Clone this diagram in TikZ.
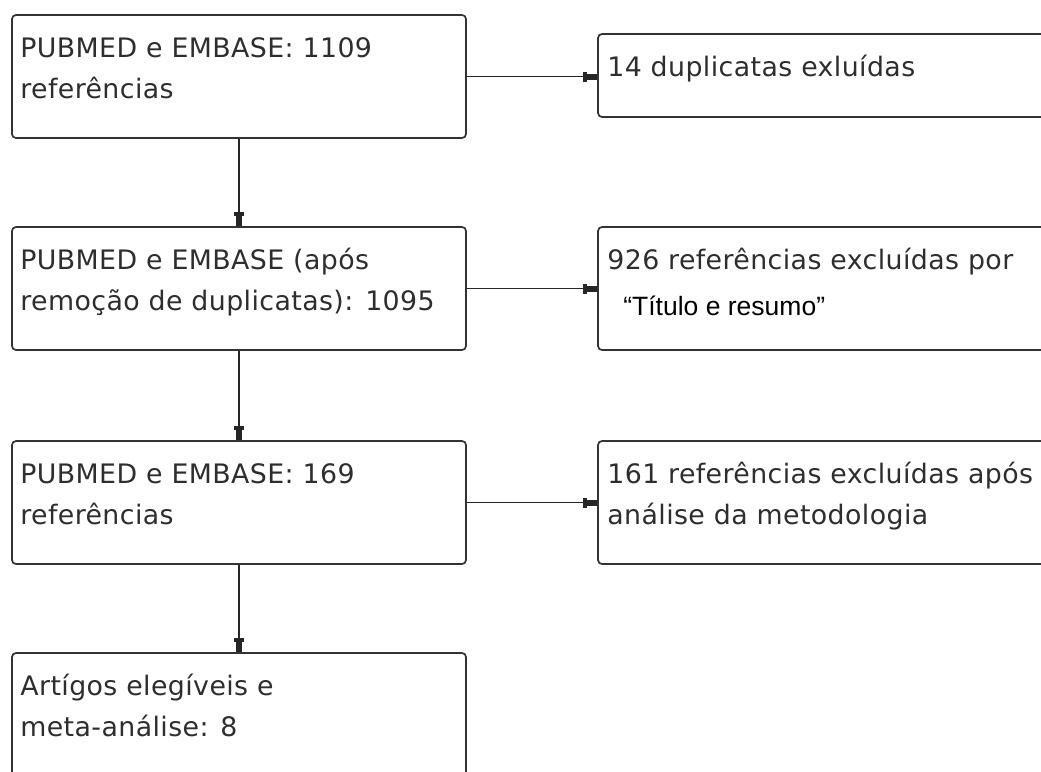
\documentclass[tikz,border=0pt]{standalone}
\usepackage{fontspec}
\setmainfont{Liberation Sans}
\newfontfamily\flowfont{DejaVu Sans}[LetterSpace=1.5]
\newfontfamily\quotefont{Liberation Sans}
\usetikzlibrary{arrows.meta}

\begin{document}
\begin{tikzpicture}[%
    x=1pt, y=-1pt,
    mainbox/.style={%
        draw=black!80,
        line width=1.7pt,
        rounded corners=4pt,
        minimum width=454pt,
        minimum height=123pt,
        inner sep=0pt
    },
    exclbox/.style={%
        draw=black!80,
        line width=1.7pt,
        rounded corners=4pt,
        minimum width=462pt,
        minimum height=123pt,
        inner sep=0pt
    },
    boxtext/.style={%
        anchor=north west,
        inner sep=0pt,
        align=left,
        text=black!82,
        font=\flowfont\fontsize{26.8}{41}\selectfont
    },
    flow/.style={%
        draw=black!85,
        line width=1.6pt,
        -{Rectangle[length=4pt,width=10pt]Rectangle[length=10pt,width=6pt]}
    }
]
\useasboundingbox (0,0) rectangle (1041,771);
\clip (0,0) rectangle (1041,771);

% Main column
    \node[mainbox] (main1) at (239,76.5) {};
    \node[mainbox] (main2) at (239,288.5) {};
    \node[mainbox] (main3) at (239,502.5) {};
    \node[mainbox] (main4) at (239,714.5) {};

% Excluded references
    \node[exclbox, minimum height=83pt] (excl1) at (829,75.5) {};
    \node[exclbox] (excl2) at (829,288.5) {};
    \node[exclbox] (excl3) at (829,502.5) {};

% Texts
    \node[boxtext, xshift=9pt, yshift=-14pt] (main1text) at (main1.north west)
        {\strut PUBMED e EMBASE: 1109\\referências};
    \node[boxtext, xshift=9pt, yshift=-14pt] (main2text) at (main2.north west)
        {\strut PUBMED e EMBASE (após\\remoção de duplicatas): 1095};
    \node[boxtext, xshift=9pt, yshift=-14pt] (main3text) at (main3.north west)
        {\strut PUBMED e EMBASE: 169\\referências};
    \node[boxtext, xshift=9pt, yshift=-14pt] (main4text) at (main4.north west)
        {\strut Artígos elegíveis e\\meta-análise: 8};

    \node[boxtext, xshift=10pt, yshift=-14pt] (excl1text) at (excl1.north west)
        {\strut 14 duplicatas exluídas};
    \node[boxtext, xshift=10pt, yshift=-14pt] (excl2text) at (excl2.north west)
        {\strut 926 referências excluídas por\\[5pt]%
        \hspace*{16pt}{\quotefont\fontsize{26.5}{41}\selectfont\color{black}“Título e resumo”}};
    \node[boxtext, xshift=10pt, yshift=-14pt] (excl3text) at (excl3.north west)
        {\strut 161 referências excluídas após\\análise da metodologia};

% Arrows
\draw[flow] (main1) -- (main2);
\draw[flow] (main2) -- (main3);
\draw[flow] (main3) -- (main4);

\draw[flow] (main1.east) -- (main1.east -| excl1.west);
\draw[flow] (main2.east) -- (main2.east -| excl2.west);
\draw[flow] (main3.east) -- (main3.east -| excl3.west);

\end{tikzpicture}
\end{document}
